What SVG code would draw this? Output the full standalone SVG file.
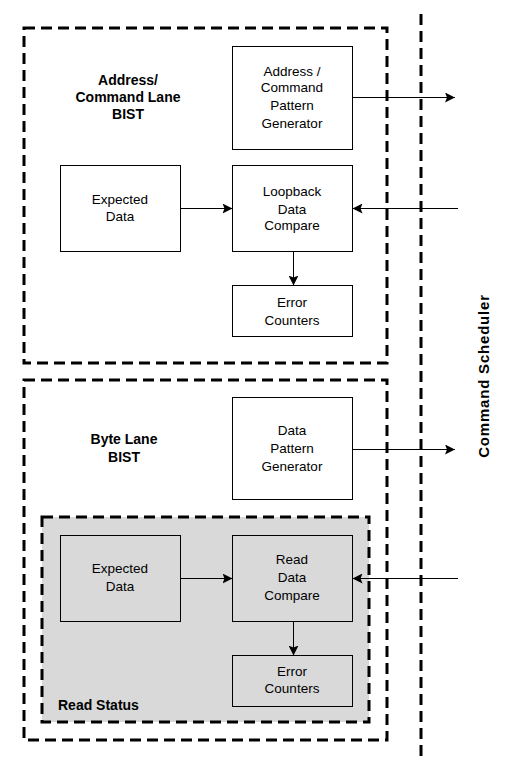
<svg xmlns="http://www.w3.org/2000/svg" width="515" height="775" viewBox="0 0 515 775">
<style>
.bg{fill:#ffffff}
.dash{fill:none;stroke:#000;stroke-width:3;stroke-dasharray:11,6}
.shade{fill:#d9d9d9;stroke:#000;stroke-width:3;stroke-dasharray:11,6}
.box{fill:#fff;stroke:#000;stroke-width:1}
.gbox{fill:#d9d9d9;stroke:#000;stroke-width:1}
.t{font-family:"Liberation Sans",Arial,sans-serif;font-size:13.5px;fill:#000;text-anchor:middle}
.b{font-family:"Liberation Sans",Arial,sans-serif;font-size:14px;font-weight:bold;fill:#000;text-anchor:middle}
.cn{stroke:#000;stroke-width:1;fill:none}
</style>
<defs>
<marker id="ah" viewBox="0 0 10 10" refX="10" refY="5" markerWidth="10" markerHeight="10" markerUnits="userSpaceOnUse" orient="auto">
<path d="M0,0 L10,5 L0,10 L2,5 z" fill="#000"/>
</marker>
</defs>
<rect class="bg" x="0" y="0" width="515" height="775"/>
<g id="addr-lane">
<rect class="dash" x="24" y="28" width="363" height="335"/>
<text class="b" x="128" y="85">Address/</text>
<text class="b" x="128" y="102">Command Lane</text>
<text class="b" x="128" y="119">BIST</text>
</g>
<g id="byte-lane">
<rect class="dash" x="24" y="380" width="363" height="360"/>
<text class="b" x="124" y="444">Byte Lane</text>
<text class="b" x="124" y="462">BIST</text>
</g>
<g id="read-status">
<rect class="shade" x="42" y="517" width="327" height="205"/>
<text class="b" x="58" y="710" style="text-anchor:start">Read Status</text>
</g>
<g id="scheduler">
<line class="dash" x1="421" y1="14" x2="421" y2="760"/>
<text class="b" x="489" y="376" style="font-size:15px;letter-spacing:0.8px" transform="rotate(-90 489 376)">Command Scheduler</text>
</g>
<g id="ac-gen">
<rect class="box" x="232.5" y="46.5" width="120" height="103"/>
<text class="t" x="292" y="76">Address /</text>
<text class="t" x="292" y="92">Command</text>
<text class="t" x="292" y="110">Pattern</text>
<text class="t" x="292" y="128">Generator</text>
</g>
<g id="exp1">
<rect class="box" x="60.5" y="165.5" width="120" height="86"/>
<text class="t" x="120" y="204">Expected</text>
<text class="t" x="120" y="221">Data</text>
</g>
<g id="loopback">
<rect class="box" x="232.5" y="165.5" width="120" height="86"/>
<text class="t" x="292" y="196">Loopback</text>
<text class="t" x="292" y="214">Data</text>
<text class="t" x="292" y="230">Compare</text>
</g>
<g id="err1">
<rect class="box" x="232.5" y="285.5" width="120" height="51"/>
<text class="t" x="292" y="307">Error</text>
<text class="t" x="292" y="325">Counters</text>
</g>
<g id="data-gen">
<rect class="box" x="232.5" y="397.5" width="120" height="102"/>
<text class="t" x="292" y="435">Data</text>
<text class="t" x="292" y="453">Pattern</text>
<text class="t" x="292" y="471">Generator</text>
</g>
<g id="exp2">
<rect class="gbox" x="60.5" y="535.5" width="120" height="86"/>
<text class="t" x="120" y="573">Expected</text>
<text class="t" x="120" y="591">Data</text>
</g>
<g id="read-cmp">
<rect class="gbox" x="232.5" y="535.5" width="120" height="86"/>
<text class="t" x="292" y="564">Read</text>
<text class="t" x="292" y="582">Data</text>
<text class="t" x="292" y="600">Compare</text>
</g>
<g id="err2">
<rect class="gbox" x="232.5" y="655.5" width="120" height="51"/>
<text class="t" x="292" y="676">Error</text>
<text class="t" x="292" y="693">Counters</text>
</g>
<g id="connectors">
<line class="cn" x1="352.5" y1="97.5" x2="455" y2="97.5" marker-end="url(#ah)"/>
<line class="cn" x1="180.5" y1="208.5" x2="232.5" y2="208.5" marker-end="url(#ah)"/>
<line class="cn" x1="458" y1="208.5" x2="352.5" y2="208.5" marker-end="url(#ah)"/>
<line class="cn" x1="293.5" y1="251.5" x2="293.5" y2="285.5" marker-end="url(#ah)"/>
<line class="cn" x1="352.5" y1="449.5" x2="455" y2="449.5" marker-end="url(#ah)"/>
<line class="cn" x1="180.5" y1="578.5" x2="232.5" y2="578.5" marker-end="url(#ah)"/>
<line class="cn" x1="458" y1="578.5" x2="352.5" y2="578.5" marker-end="url(#ah)"/>
<line class="cn" x1="293.5" y1="621.5" x2="293.5" y2="655.5" marker-end="url(#ah)"/>
</g>
</svg>
